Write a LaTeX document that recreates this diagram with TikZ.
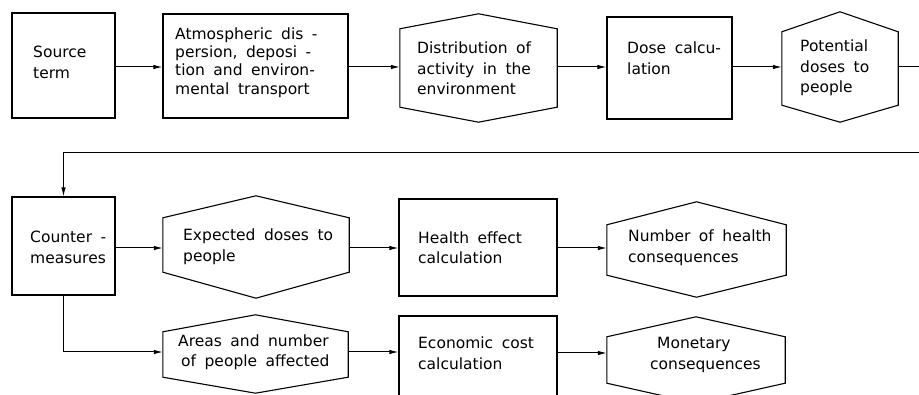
\documentclass[tikz,border=0pt]{standalone}
\usepackage{fontspec}
\setmainfont{DejaVu Sans}
\usetikzlibrary{arrows.meta}
\newcommand\hexout[3]{\draw[shapeline] (#1.south west) -- (#1.north west) -- ([yshift=#2]#1.north) -- (#1.north east) -- (#1.south east) -- ([yshift=-#3]#1.south) -- cycle;}
\newcommand\widesp{\spaceskip=0.55em plus 0.1em\relax}
\tikzset{
  shapeline/.style={line width=1.1pt, line join=miter},
  boxnode/.style={draw, line width=1.1pt, inner sep=0pt, rectangle},
  hexnode/.style={draw=none, inner sep=0pt, rectangle},
  txt/.style={inner sep=0pt, anchor=west, align=left,
    font=\fontsize{15.5}{20.5}\selectfont, execute at begin node=\widesp},
  arr/.style={line width=1pt, -{Latex[length=9pt,width=4.5pt]}},
  conn/.style={line width=1pt}
}
\begin{document}
\begin{tikzpicture}[x=1pt,y=-1pt]
\useasboundingbox (0,0) rectangle (919,395);
\fill[white] (0,0) rectangle (919,395);
\clip (0,0) rectangle (919,395);

% ---- row 1
\node[boxnode, minimum width=103pt, minimum height=105pt] (src) at (63.5,65.5) {};
\node[boxnode, minimum width=185pt, minimum height=104pt] (atm) at (255.5,66) {};
\node[hexnode, minimum width=157pt, minimum height=78pt] (dist) at (478.5,68) {};
\hexout{dist}{15pt}{15pt}
\node[boxnode, minimum width=125pt, minimum height=102pt] (dose) at (669.5,68) {};
\node[hexnode, minimum width=116pt, minimum height=73pt] (pot) at (840,68.5) {};
\hexout{pot}{20pt}{17pt}

\node[txt] (srct) at (33,62.5) {Source\\term};
\node[txt, font=\fontsize{15.5}{18.3}\selectfont] (atmt) at (175,62.5)
  {Atmospheric dis -\\persion, deposi -\\tion and environ-\\mental transport};
\node[txt] (distt) at (417,68.5) {Distribution of\\activity in the\\environment};
\node[txt] (doset) at (627,58) {Dose calcu-\\lation};
\node[txt] (pott) at (800,68) {Potential\\doses to\\people};

% ---- row 2
\node[boxnode, minimum width=103pt, minimum height=98pt] (cm) at (63.5,246) {};
\node[hexnode, minimum width=186pt, minimum height=54pt] (exp) at (256,245) {};
\hexout{exp}{22pt}{26pt}
\node[boxnode, minimum width=158pt, minimum height=97pt] (health) at (478,247.5) {};
\node[hexnode, minimum width=179pt, minimum height=50pt] (num) at (696.5,250) {};
\hexout{num}{23pt}{22pt}

\node[txt] (cmt) at (30,247.5) {Counter -\\measures};
\node[txt] (expt) at (183,246.5) {Expected doses to\\people};
\node[txt] (healtht) at (418,247.5) {Health effect\\calculation};
\node[txt] (numt) at (628,247.5) {Number of health\\consequences};

% ---- row 3
\node[hexnode, minimum width=185pt, minimum height=45pt] (areas) at (255.5,354.5) {};
\hexout{areas}{17pt}{16pt}
\node[boxnode, minimum width=158pt, minimum height=97pt] (econ) at (478,364.5) {};
\node[hexnode, minimum width=178pt, minimum height=46pt] (mon) at (696,360) {};
\hexout{mon}{20pt}{20pt}

\node[txt] (areast) at (178,352) {Areas and number\\\hspace{3pt}of people affected};
\node[txt] (econt) at (418,353) {Economic cost\\calculation};
\node[txt] (mont) at (650,355) {\hspace{7pt}Monetary\\consequences};

% ---- connectors
\draw[arr] ([yshift=-1.5pt]src.east) coordinate (a1) -- (a1 -| atm.west);
\draw[arr] ([yshift=-1pt]atm.east) coordinate (a2) -- (a2 -| dist.west);
\draw[arr] ([yshift=1pt]dist.east) coordinate (a3) -- (a3 -| dose.west);
\draw[arr] ([yshift=1pt]dose.east) coordinate (a4) -- (a4 -| pot.west);

\coordinate (off1) at (935,67);
\coordinate (off2) at (935,153);
\draw[arr] ([yshift=1.5pt]pot.east) -- (off1) -- (off2) -| (cm.north);

\draw[arr] ([yshift=-2pt]cm.east) coordinate (b1) -- (b1 -| exp.west);
\draw[arr] ([yshift=-3pt]exp.east) coordinate (b2) -- (b2 -| health.west);
\draw[arr] ([yshift=-0.5pt]health.east) coordinate (b3) -- (b3 -| num.west);

\draw[arr] (cm.south) |- ([yshift=2.5pt]areas.west);
\draw[arr] ([yshift=2.5pt]areas.east) coordinate (c1) -- (c1 -| econ.west);
\draw[arr] ([yshift=11.5pt]econ.east) coordinate (c2) -- (c2 -| mon.west);
\end{tikzpicture}
\end{document}
